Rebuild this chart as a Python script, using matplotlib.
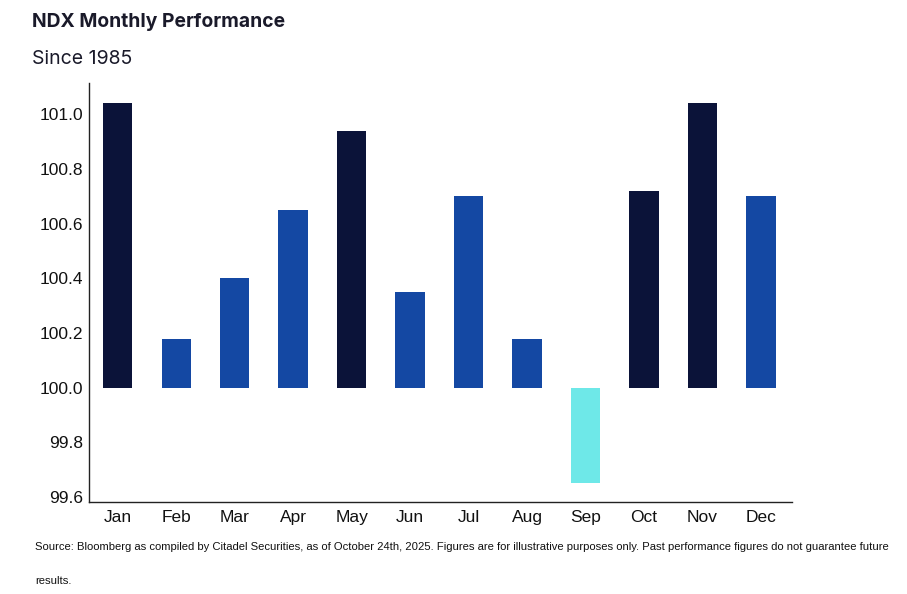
import matplotlib
matplotlib.use('Agg')
import matplotlib.pyplot as plt

months = ['Jan', 'Feb', 'Mar', 'Apr', 'May', 'Jun', 'Jul', 'Aug', 'Sep', 'Oct', 'Nov', 'Dec']
perf = [101.04, 100.18, 100.40, 100.65, 100.94, 100.35, 100.70, 100.18, 99.65, 100.72, 101.04, 100.70]
yticks = [99.6, 99.8, 100.0, 100.2, 100.4, 100.6, 100.8, 101.0]

navy = '#0b1339'
blue = '#1448a3'
cyan = '#6ee8e8'


def bar_color(v):
    # strongest months dark, weak positive blue, negative cyan
    if v < 100:
        return cyan
    if v >= 100.71:
        return navy
    return blue


fig = plt.figure(figsize=(9.07, 5.94), dpi=100)
ax = fig.add_axes([0.0981, 0.1549, 0.7751, 0.7054])

x = range(len(months))
heights = [v - 100 for v in perf]
ax.bar(x, heights, bottom=100, width=0.5, color=[bar_color(v) for v in perf])

ax.set_xlim(-0.49, 11.53)
ax.set_ylim(99.582, 101.115)
ax.set_yticks(yticks)
ax.set_yticklabels(['{0:.1f}'.format(t) for t in yticks])
ax.set_xticks(list(x))
ax.set_xticklabels(months)
ax.tick_params(length=0, labelsize=12.5)
ax.tick_params(axis='y', pad=4)
ax.tick_params(axis='x', pad=6)
for lab in ax.get_xticklabels() + ax.get_yticklabels():
    lab.set_family(['Liberation Sans', 'DejaVu Sans'])
    lab.set_color('#111111')
ax.spines['top'].set_visible(False)
ax.spines['right'].set_visible(False)
for s in ['left', 'bottom']:
    ax.spines[s].set_linewidth(1.0)
    ax.spines[s].set_color('#222222')

fig.text(0.035, 0.963, 'NDX Monthly Performance', fontsize=13.9, fontweight='bold',
         family=['Inter', 'DejaVu Sans'], color='#1a1a2a', va='center')
fig.text(0.035, 0.901, 'Since 1985', fontsize=14, family=['Inter', 'DejaVu Sans'],
         color='#1a1a2a', va='center')

foot1 = ('Source: Bloomberg as compiled by Citadel Securities, as of October 24th, 2025. '
         'Figures are for illustrative purposes only. Past performance figures do not guarantee future')
fig.text(0.039, 0.079, foot1, fontsize=8.1, family=['Liberation Sans', 'DejaVu Sans'],
         color='#111111', va='center')
fig.text(0.039, 0.022, 'results.', fontsize=8.1,
         family=['Liberation Sans', 'DejaVu Sans'], color='#111111', va='center')

fig.savefig('out.png', dpi=100)
